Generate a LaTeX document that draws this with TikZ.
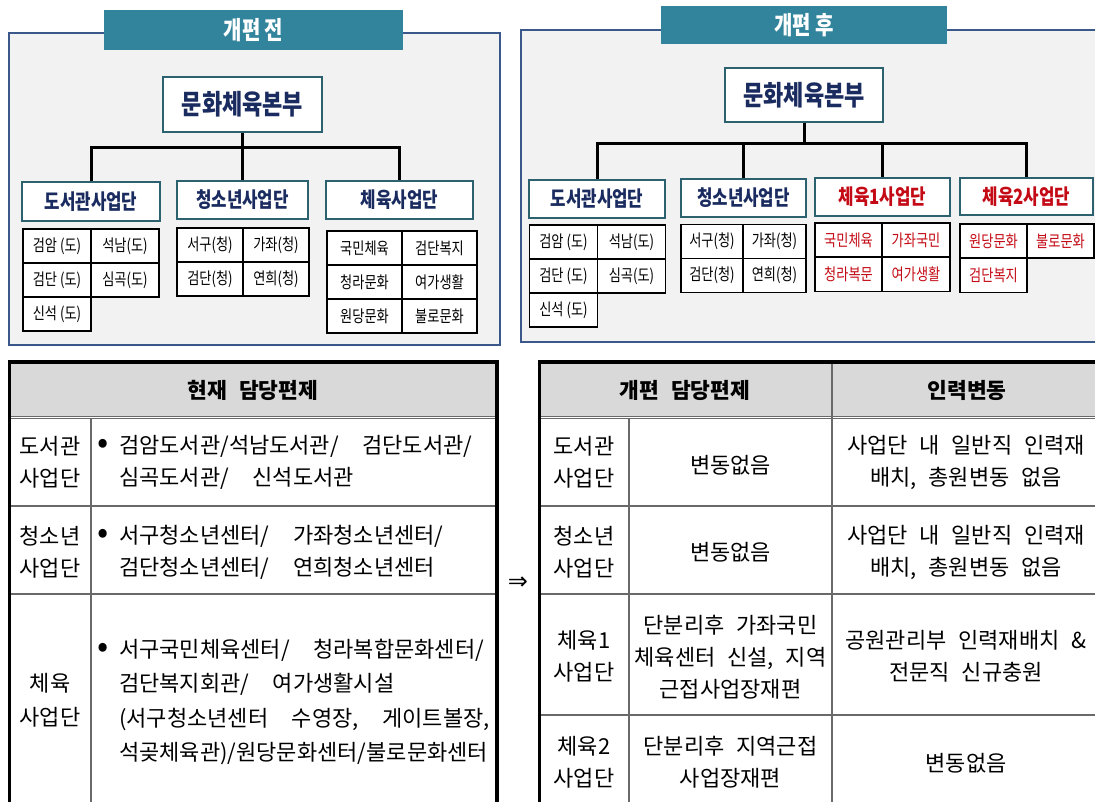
\documentclass[tikz,border=0pt]{standalone}
\usepackage{fontspec}
\setmainfont{Noto Sans CJK KR}[WordSpace=2.4]
\newfontfamily\narrowfont{Noto Sans CJK KR}[FakeStretch=0.8]
\newfontfamily\arrowfont{DejaVu Sans}
\usetikzlibrary{calc}
\definecolor{bannerteal}{RGB}{49,132,155}
\definecolor{boxteal}{RGB}{44,98,112}
\definecolor{framebl}{RGB}{58,88,138}
\definecolor{panelgray}{RGB}{242,242,242}
\definecolor{navytext}{RGB}{26,43,96}
\definecolor{hilred}{RGB}{196,10,20}
\definecolor{headgray}{RGB}{217,217,217}
\definecolor{gridgray}{RGB}{105,105,105}

\begin{document}
\begin{tikzpicture}[x=1pt, y=-1pt,
  % panels and title tabs
  panel/.style   = {draw=framebl, fill=panelgray, line width=2pt},
  tabbox/.style  = {fill=bannerteal, text=white, inner sep=0pt,
                    font=\narrowfont\bfseries\fontsize{25}{28}\selectfont},
  % org chart boxes
  hqbox/.style   = {draw=boxteal, fill=white, line width=2.5pt, inner sep=0pt,
                    text=navytext, font=\narrowfont\bfseries\fontsize{27.5}{30}\selectfont},
  unitbox/.style = {draw=boxteal, fill=white, line width=2.5pt, inner sep=0pt,
                    text=navytext, font=\narrowfont\bfseries\fontsize{21}{24}\selectfont},
  cellbox/.style = {draw=black, fill=white, line width=1.8pt, inner sep=0pt,
                    minimum height=34, font=\narrowfont\fontsize{16.5}{20}\selectfont},
  newcell/.style = {cellbox, text=hilred},
  link/.style    = {draw=black, line width=3pt},
  % staffing tables
  tbox/.style    = {draw=black, line width=3.5pt},
  tline/.style   = {draw=gridgray, line width=1.2pt},
  dbl/.style     = {draw=gridgray, double=white, double distance=1.6pt, line width=0.9pt},
  th/.style      = {inner sep=0pt, font=\bfseries\fontsize{21.5}{32}\selectfont},
  td/.style      = {align=center, inner sep=0pt, font=\fontsize{22}{32}\selectfont},
  tl/.style      = {td, align=left, anchor=west}
]
\useasboundingbox (0,0) rectangle (1095,801);
\clip (0,0) rectangle (1095,801);
\newcommand\bul{\llap{\scalebox{1.5}{•}\hspace{10pt}}}

% ---- before: panel, tab, head office ----
\draw[panel] (9,33) rectangle (500,345);
\node[tabbox, minimum width=299, minimum height=40] (LTAB) at (253.5,30) {개편 전};
\node[hqbox, minimum width=159, minimum height=55] (LHQ) at (242.5,104.5) {문화체육본부};

% business units (before)
\node[unitbox, minimum width=138, minimum height=39] (LLIB) at (91,201.5)  {도서관사업단};
\node[unitbox, minimum width=131, minimum height=38] (LYTH) at (242.5,200) {청소년사업단};
\node[unitbox, minimum width=147, minimum height=38] (LSPT) at (399.5,200) {체육사업단};

\coordinate (LBAR) at (242.5,147);
\draw[link] (LHQ.south) -- (LBAR);
\draw[link] (LLIB.north) |- (LBAR) -| (LSPT.north);
\draw[link] (LYTH.north) -- (LBAR);

% facilities (before)
\node[cellbox, minimum width=68] (LL1) at (57,246)  {검암 (도)};
\node[cellbox, minimum width=68] (LL2) at (125,246) {석남(도)};
\node[cellbox, minimum width=68] (LL3) at (57,280)  {검단 (도)};
\node[cellbox, minimum width=68] (LL4) at (125,280) {심곡(도)};
\node[cellbox, minimum width=68] (LL5) at (57,314)  {신석 (도)};

\node[cellbox, minimum width=66] (LY1) at (210,245) {서구(청)};
\node[cellbox, minimum width=66] (LY2) at (276,245) {가좌(청)};
\node[cellbox, minimum width=66] (LY3) at (210,279) {검단(청)};
\node[cellbox, minimum width=66] (LY4) at (276,279) {연희(청)};

\node[cellbox, minimum width=75] (LS1) at (364.5,248) {국민체육};
\node[cellbox, minimum width=75] (LS2) at (439.5,248) {검단복지};
\node[cellbox, minimum width=75] (LS3) at (364.5,282) {청라문화};
\node[cellbox, minimum width=75] (LS4) at (439.5,282) {여가생활};
\node[cellbox, minimum width=75] (LS5) at (364.5,316) {원당문화};
\node[cellbox, minimum width=75] (LS6) at (439.5,316) {불로문화};

% ---- after: panel, tab, head office ----
\draw[panel] (521,30) rectangle (1110,342);
\node[tabbox, minimum width=286, minimum height=38] (RTAB) at (804,25) {개편 후};
\node[hqbox, minimum width=158, minimum height=54] (RHQ) at (804,95) {문화체육본부};

% business units (after)
\node[unitbox, minimum width=136, minimum height=38] (RLIB) at (597,199)    {도서관사업단};
\node[unitbox, minimum width=125, minimum height=38] (RYTH) at (743.5,198)  {청소년사업단};
\node[unitbox, minimum width=135, minimum height=38, text=hilred] (RSP1) at (882.5,197)  {체육1사업단};
\node[unitbox, minimum width=133, minimum height=37, text=hilred] (RSP2) at (1026.5,196.5) {체육2사업단};

\coordinate (RBAR) at (804,143);
\draw[link] (RHQ.south) -- (RBAR);
\draw[link] (RLIB.north) |- (RBAR) -| (RSP2.north);
\draw[link] (RYTH.north) -- (RYTH.north |- RBAR);
\draw[link] (RSP1.north) -- (RSP1.north |- RBAR);

% facilities (after)
\node[cellbox, minimum width=68] (RL1) at (563.5,242) {검암 (도)};
\node[cellbox, minimum width=68] (RL2) at (631.5,242) {석남(도)};
\node[cellbox, minimum width=68] (RL3) at (563.5,276) {검단 (도)};
\node[cellbox, minimum width=68] (RL4) at (631.5,276) {심곡(도)};
\node[cellbox, minimum width=68] (RL5) at (563.5,310) {신석 (도)};

\node[cellbox, minimum width=62.5] (RY1) at (712,241.5)   {서구(청)};
\node[cellbox, minimum width=62.5] (RY2) at (774.5,241.5) {가좌(청)};
\node[cellbox, minimum width=62.5] (RY3) at (712,275.5)   {검단(청)};
\node[cellbox, minimum width=62.5] (RY4) at (774.5,275.5) {연희(청)};

\node[newcell, minimum width=67.5] (RA1) at (848.5,240)  {국민체육};
\node[newcell, minimum width=67.5] (RA2) at (916,240)    {가좌국민};
\node[newcell, minimum width=67.5] (RA3) at (848.5,274.5) {청라복문};
\node[newcell, minimum width=67.5] (RA4) at (916,274.5)  {여가생활};

\node[newcell, minimum width=67] (RB1) at (993.5,241)   {원당문화};
\node[newcell, minimum width=67] (RB2) at (1060.5,241)  {불로문화};
\node[newcell, minimum width=67] (RB3) at (993.5,275.5) {검단복지};

% ---- current staffing table ----
\fill[headgray] (9.5,362) rectangle (497,416);
\draw[dbl] (9.5,417.5) -- (497,417.5);
\draw[tline] (91,419) -- (91,815);
\draw[tline] (9.5,506) -- (497,506);
\draw[tline] (9.5,594) -- (497,594);
\draw[tbox] (9.5,815) -- (9.5,362) -- (497,362) -- (497,815);

\node[th] (LTH) at (253,390) {현재 담당편제};
\node[td] (LR1) at (50,462) {도서관\\사업단};
\node[td] (LR2) at (50,552) {청소년\\사업단};
\node[td, font=\fontsize{22}{34}\selectfont] (LR3) at (50,700) {체육\\사업단};
\node[tl] (LD1) at (119,462) {\bul 검암도서관/석남도서관/\ \ 검단도서관/\\심곡도서관/\ \ 신석도서관};
\node[tl] (LD2) at (119,552) {\bul 서구청소년센터/\ \ 가좌청소년센터/\\검단청소년센터/\ \ 연희청소년센터};
\node[tl, font=\fontsize{22}{34.5}\selectfont] (LD3) at (119,702) {\bul 서구국민체육센터/\ \ 청라복합문화센터/\\검단복지회관/\ \ 여가생활시설\\(서구청소년센터\ \ 수영장,\ \ 게이트볼장,\\석곶체육관)/원당문화센터/불로문화센터};

\node[font=\arrowfont\fontsize{24}{24}\selectfont] (ARR) at (518,583) {⇒};

% ---- new staffing table ----
\fill[headgray] (539.5,362) rectangle (1110,416);
\draw[dbl] (539.5,417.5) -- (1110,417.5);
\draw[tline] (832,362) -- (832,815);
\draw[tline] (629,419) -- (629,815);
\draw[tline] (539.5,506) -- (1110,506);
\draw[tline] (539.5,594) -- (1110,594);
\draw[tline] (539.5,715) -- (1110,715);
\draw[tbox] (539.5,815) -- (539.5,362) -- (1110,362);

\node[th] (RTH1) at (685,390) {개편 담당편제};
\node[th] (RTH2) at (967,390) {인력변동};

\node[td] (RR1) at (584,462) {도서관\\사업단};
\node[td] (RR2) at (584,552) {청소년\\사업단};
\node[td] (RR3) at (584,656) {체육1\\사업단};
\node[td] (RR4) at (584,762) {체육2\\사업단};

\node[td] (RM1) at (730.5,465) {변동없음};
\node[td] (RM2) at (730.5,552) {변동없음};
\node[td] (RM3) at (730.5,657) {단분리후 가좌국민\\체육센터 신설, 지역\\근접사업장재편};
\node[td] (RM4) at (730.5,762) {단분리후 지역근접\\사업장재편};

\node[td] (RC1) at (966,462) {사업단 내 일반직 인력재\\배치, 총원변동 없음};
\node[td] (RC2) at (966,552) {사업단 내 일반직 인력재\\배치, 총원변동 없음};
\node[td] (RC3) at (966,656) {공원관리부 인력재배치 \&\\전문직 신규충원};
\node[td] (RC4) at (966,763) {변동없음};

\end{tikzpicture}
\end{document}
